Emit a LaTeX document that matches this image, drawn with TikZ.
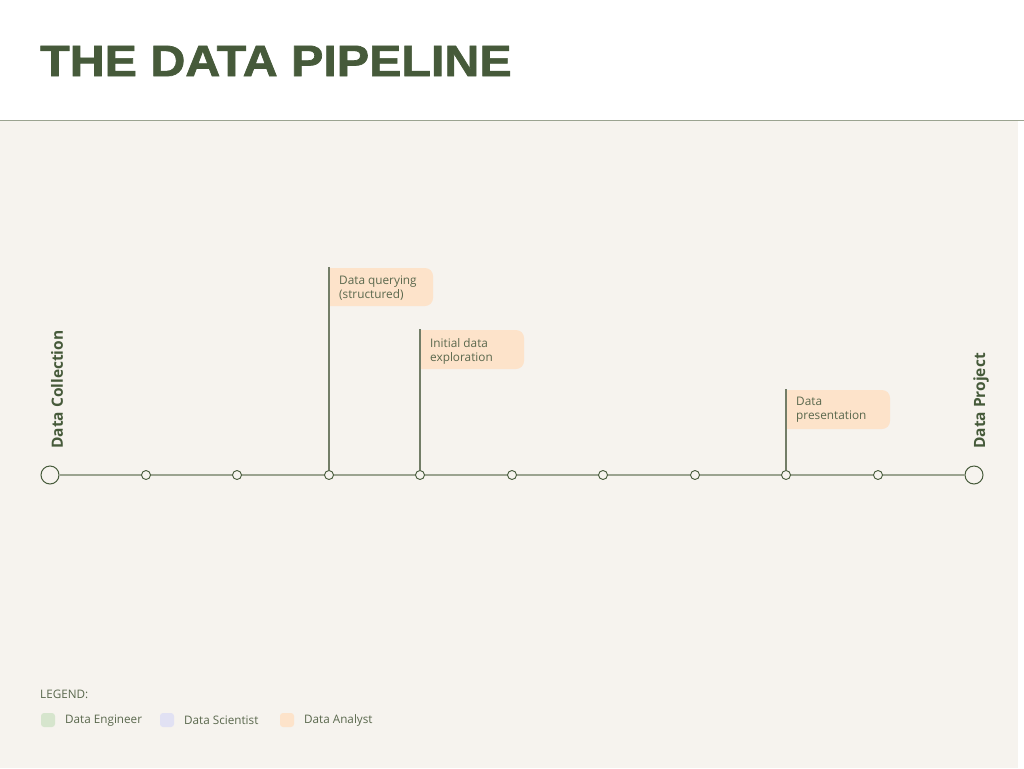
\documentclass[tikz,border=0pt]{standalone}
\usepackage{fontspec}
\setmainfont{Open Sans}
\newfontfamily\titlefont[FakeStretch=1.10,FakeBold=1.6]{Liberation Sans Bold}
\definecolor{dkgreen}{HTML}{465A3A}
\definecolor{txtgreen}{HTML}{5A684D}
\definecolor{linegray}{HTML}{9BA390}
\definecolor{stemgray}{HTML}{737D67}
\definecolor{beige}{HTML}{F6F3EE}
\definecolor{peach}{HTML}{FDE3CA}
\definecolor{lgreen}{HTML}{D6E5CD}
\definecolor{lav}{HTML}{E1E1F3}
\begin{document}
\begin{tikzpicture}[x=1pt,y=-1pt,
  dot/.style={circle,draw=dkgreen,fill=beige,line width=0.9pt,inner sep=0pt,minimum size=9pt},
  bigdot/.style={circle,draw=dkgreen,fill=beige,line width=1pt,inner sep=0pt,minimum size=18pt},
  stem/.style={draw=stemgray,line width=1.1pt},
  flagtext/.style={anchor=north west,align=left,inner sep=0pt,text=txtgreen,font=\fontsize{11.8}{14}\selectfont},
  flagbox/.style={fill=peach},
  vlabel/.style={rotate=90,anchor=west,inner sep=0pt,text=dkgreen,font=\fontsize{15.5}{17}\selectfont\bfseries},
  legsq/.style={fill=#1,rounded corners=3pt},
  legtext/.style={anchor=west,inner sep=0pt,text=txtgreen,font=\fontsize{11.7}{13}\selectfont}]
\useasboundingbox (0,0) rectangle (1024,768);
\fill[white] (0,0) rectangle (1024,121);
\fill[beige] (0,121) rectangle (1018,768);
\draw[linegray,line width=1pt] (0,120.5) -- (1024,120.5);
\node[anchor=west,inner sep=0pt,text=dkgreen,font=\titlefont\fontsize{44}{48}\selectfont] (title) at (40,61) {THE DATA PIPELINE};
% timeline
\node[bigdot] (s) at (50,475) {};
\node[bigdot] (e) at (974,475) {};
\draw[linegray,line width=1.8pt] (s) -- (e);
\foreach \i/\x in {1/146,2/237,3/329,4/420,5/512,6/603,7/695,8/786,9/878}
  \node[dot] (c\i) at (\x,475) {};
% flags
\fill[flagbox] (329,268) [rounded corners=8pt] -- (433,268) -- (433,306) [sharp corners] -- (329,306) -- cycle;
\coordinate (t3) at (329,267);
\draw[stem] (t3) -- (c3.north);
\node[flagtext] (f1) at (339,276) {Data querying\\(structured)};
\fill[flagbox] (420,330) [rounded corners=8pt] -- (524,330) -- (524,369) [sharp corners] -- (420,369) -- cycle;
\coordinate (t4) at (420,329);
\draw[stem] (t4) -- (c4.north);
\node[flagtext] (f2) at (430,338) {Initial data\\exploration};
\fill[flagbox] (786,390) [rounded corners=8pt] -- (890,390) -- (890,429) [sharp corners] -- (786,429) -- cycle;
\coordinate (t8) at (786,389);
\draw[stem] (t8) -- (c8.north);
\node[flagtext] (f3) at (796,397) {Data\\presentation};
% end labels
\node[vlabel] (lc) at (57,449) {Data Collection};
\node[vlabel] (lp) at (981,449) {Data Project};
% legend
\node[anchor=west,inner sep=0pt,text=txtgreen,font=\fontsize{11.7}{13}\selectfont] (leg) at (40,694.5) {LEGEND:};
\fill[legsq=lgreen] (41,713) rectangle (55,727);
\node[legtext] (l1) at (65,720.5) {Data Engineer};
\fill[legsq=lav] (160,713) rectangle (174,727);
\node[legtext] (l2) at (184,720.5) {Data Scientist};
\fill[legsq=peach] (280,713) rectangle (294,727);
\node[legtext] (l3) at (304,720.5) {Data Analyst};
\end{tikzpicture}
\end{document}
